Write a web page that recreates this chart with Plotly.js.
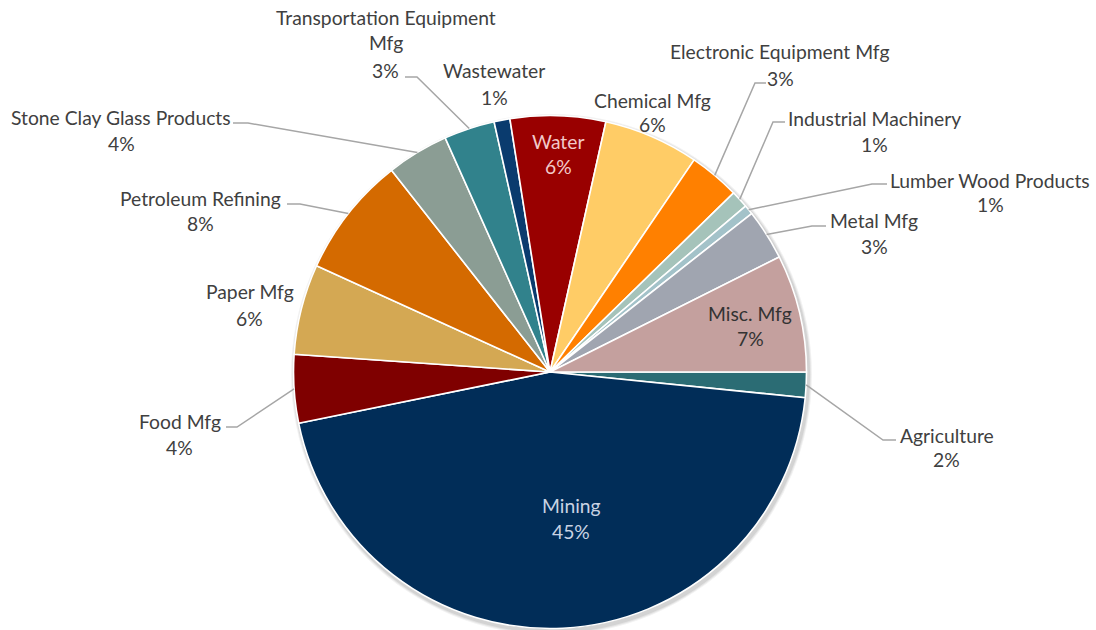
<!DOCTYPE html>
<html><head><meta charset="utf-8">
<script src="https://cdn.plot.ly/plotly-3.0.1.min.js"></script>
<style>html,body{margin:0;padding:0;background:#fff}#chart{width:1096px;height:630px}</style>
</head><body><div id="chart"></div>
<script>
// ---- data ----
const categories = ["Agriculture","Mining","Food Mfg","Paper Mfg","Petroleum Refining",
  "Stone Clay Glass Products","Transportation Equipment Mfg","Wastewater","Water",
  "Chemical Mfg","Electronic Equipment Mfg","Industrial Machinery","Lumber Wood Products",
  "Metal Mfg","Misc. Mfg"];
const shares = [1.6,45.2,4.3,5.7,7.6,3.9,3.2,1.0,6.0,6.0,3.2,1.1,0.6,3.2,7.4];
const sliceColors = ["#2b6c74","#012d58","#7f0000","#d4a853","#d46a00","#8b9d94","#31828c",
  "#0a3b6e","#990000","#ffcc66","#ff8000","#a5c3ba","#a3c2c9","#a0a5b0","#c4a09e"];

// ---- layout (pixel positions of labels, not data) ----
const W = 1096, H = 630, CX = 550, CY = 372, R = 256.5;
const labelLayout = [
  {x:946.5, lines:["Agriculture"], ys:[435,459], leader:[[896,440],[883,440]]},
  {x:571, lines:["Mining"], ys:[505,531], color:"#c9d3e3"},
  {x:179.5, lines:["Food Mfg"], ys:[421.5,447.5], leader:[[226,427],[237,427]]},
  {x:249.5, lines:["Paper Mfg"], ys:[291.5,318]},
  {x:200, lines:["Petroleum Refining"], ys:[198.5,223.5], leader:[[287,204],[300,204]]},
  {x:121, lines:["Stone Clay Glass Products"], ys:[117.5,144], leader:[[233,123],[248,123]]},
  {x:385.5, lines:["Transportation Equipment","Mfg"], ys:[17,43,70], leader:[[405,77],[417,77]]},
  {x:494, lines:["Wastewater"], ys:[70,97]},
  {x:558, lines:["Water"], ys:[142,167], color:"#f2c9c9"},
  {x:652, lines:["Chemical Mfg"], ys:[100,125]},
  {x:780, lines:["Electronic Equipment Mfg"], ys:[51,78], leader:[[766,83],[755,83]]},
  {x:874.5, lines:["Industrial Machinery"], ys:[118,145], leader:[[785,122],[773,122]]},
  {x:990, lines:["Lumber Wood Products"], ys:[180,205], leader:[[887,184],[872,184]]},
  {x:874, lines:["Metal Mfg"], ys:[220,247], leader:[[826,226],[812,226]]},
  {x:750, lines:["Misc. Mfg"], ys:[313,338], color:"#333333"}
];

const px = v => v / W;
const py = v => 1 - v / H;
const total = shares.reduce((a,b)=>a+b,0);

const annotations = [];
const shapes = [];

// soft shadow under pie
[[4,0.05],[3,0.06],[2,0.07]].forEach(([d,o])=>{
  shapes.push({type:'circle', xref:'paper', yref:'paper', layer:'below',
    x0:px(CX+1.5-R-d), x1:px(CX+1.5+R+d), y0:py(CY+2.5+R+d), y1:py(CY+2.5-R-d),
    fillcolor:`rgba(0,0,0,${o})`, line:{width:0}});
});

let cum = 0;
shares.forEach((v,i)=>{
  const mid = (cum + v/2) / total;
  cum += v;
  const L = labelLayout[i];
  const col = L.color || "#404040";
  const pct = Math.round(v/total*100) + "%";
  const texts = L.lines.concat([pct]);
  texts.forEach((t,k)=>{
    annotations.push({xref:'paper', yref:'paper', x:px(L.x), y:py(L.ys[k]),
      text:t, showarrow:false, xanchor:'center', yanchor:'middle',
      font:{family:'Lato, "Open Sans", sans-serif', size:19.3, color:col}});
  });
  if (L.leader) {
    const th = mid * 2 * Math.PI; // clockwise from 3 o'clock, screen y down
    const ex = CX + R*Math.cos(th), ey = CY + R*Math.sin(th);
    const [end, elbow] = L.leader;
    shapes.push({type:'path', xref:'paper', yref:'paper', layer:'above',
      path:`M ${px(ex)} ${py(ey)} L ${px(elbow[0])} ${py(elbow[1])} L ${px(end[0])} ${py(end[1])}`,
      line:{color:'#a6a6a6', width:1.5}});
  }
});

const trace = {
  type:'pie', labels:categories, values:shares, sort:false,
  direction:'clockwise', rotation:90, textinfo:'none', hoverinfo:'label+percent',
  marker:{colors:sliceColors, line:{color:'#ffffff', width:1.6}},
  domain:{x:[px(CX-R), px(CX+R)], y:[py(CY+R), py(CY-R)]}
};

Plotly.newPlot('chart', [trace], {
  width:W, height:H, margin:{l:0,r:0,t:0,b:0}, showlegend:false,
  paper_bgcolor:'#ffffff', annotations, shapes
}, {displayModeBar:false, staticPlot:true});
</script></body></html>
